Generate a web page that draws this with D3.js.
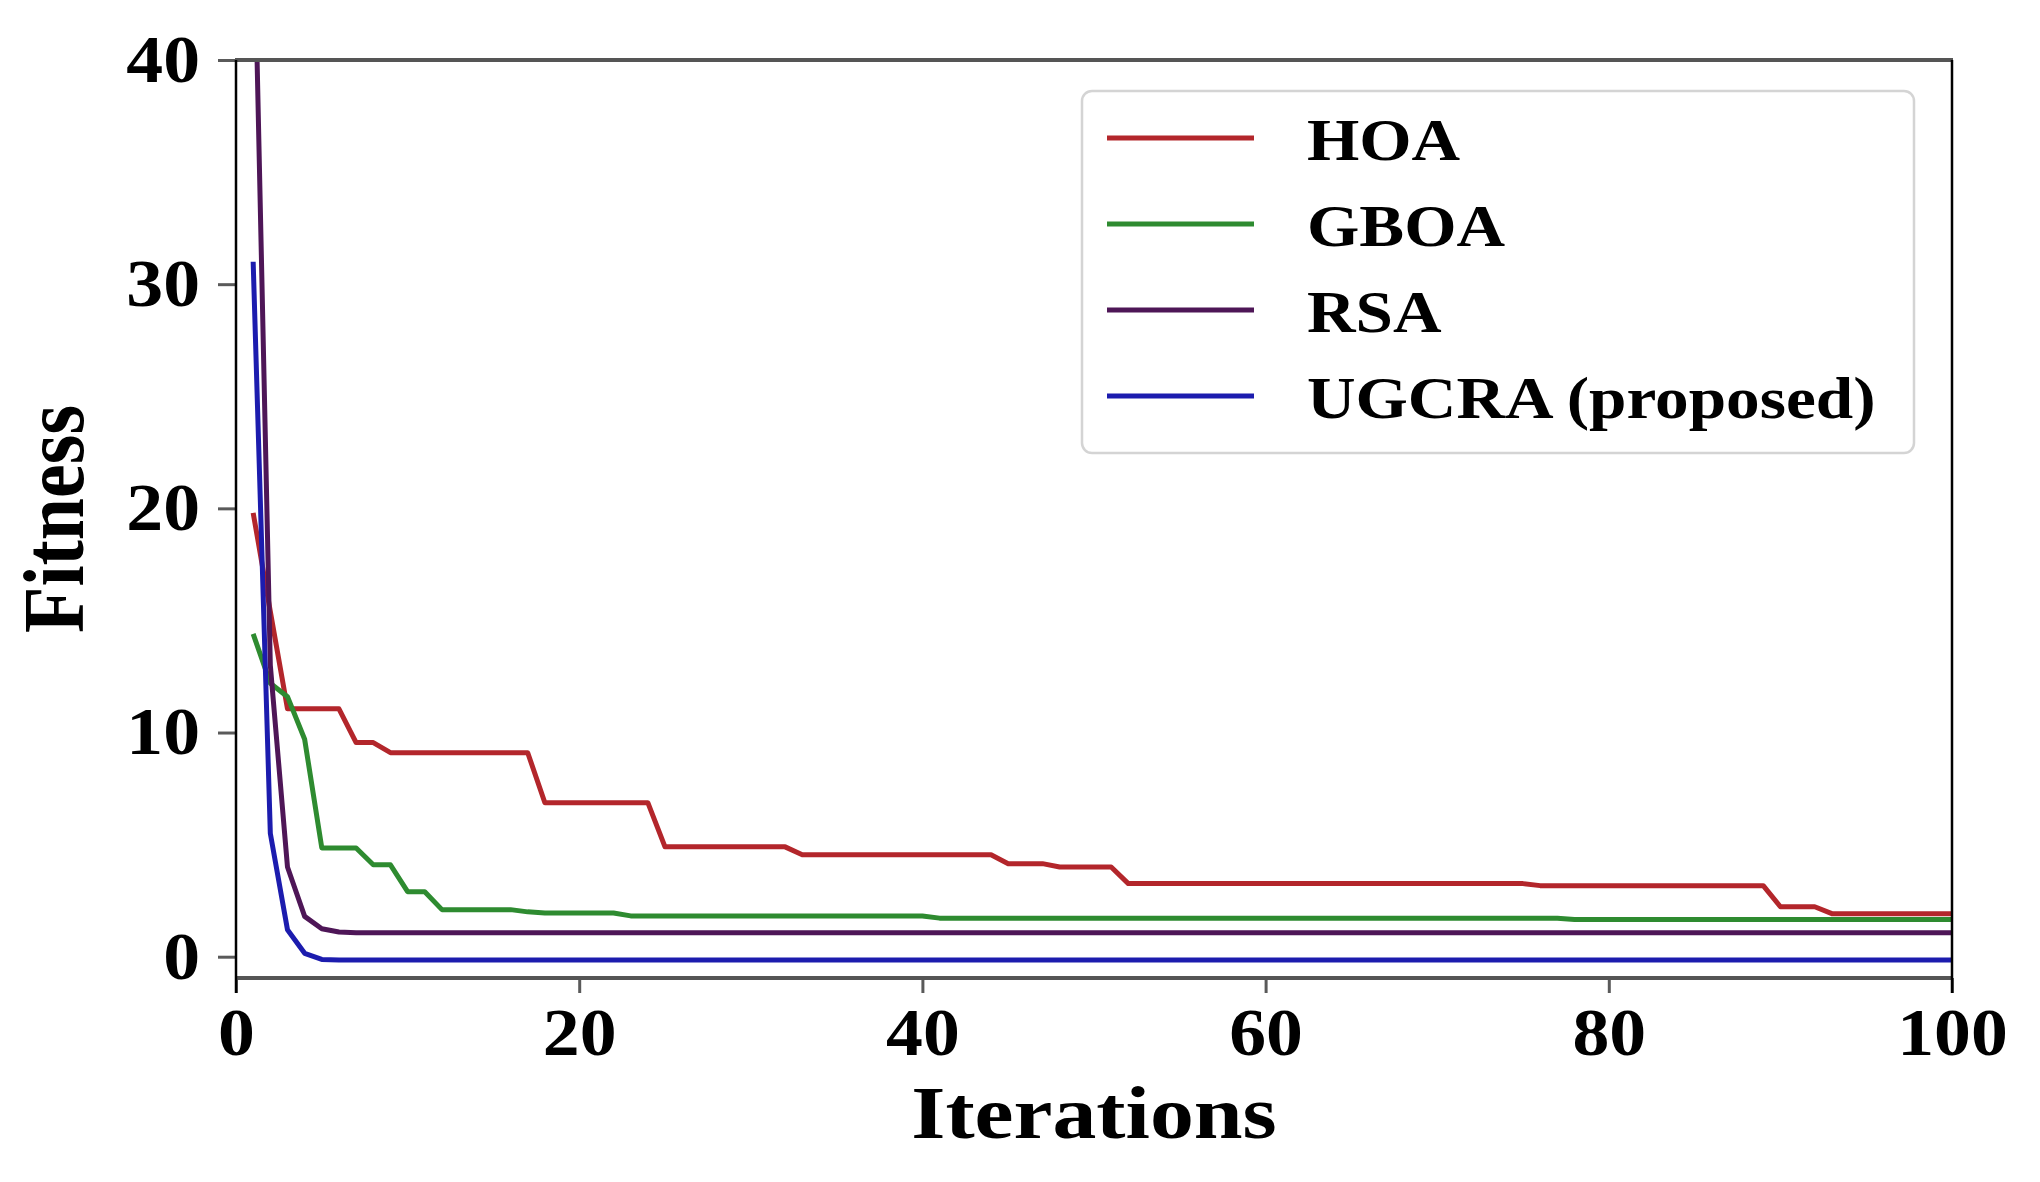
<!DOCTYPE html>
<html>
<head>
<meta charset="utf-8">
<script src="https://cdn.jsdelivr.net/npm/d3@7/dist/d3.min.js"></script>
<style>
  html, body { margin: 0; padding: 0; background: #ffffff; }
  svg { display: block; }
</style>
</head>
<body>
<svg id="chart" width="2040" height="1182"></svg>
<script>
// ---------------- data ----------------
const seriesNames = ["HOA", "GBOA", "RSA", "UGCRA (proposed)"];

const hoa = [
  19.8, 15.4, 11.06, 11.06, 11.06, 11.06, 9.55, 9.55, 9.1,
  9.1, 9.1, 9.1, 9.1, 9.1, 9.1, 9.1, 9.1,
  6.87, 6.87, 6.87, 6.87, 6.87, 6.87, 6.87,
  4.9, 4.9, 4.9, 4.9, 4.9, 4.9, 4.9, 4.9,
  4.55, 4.55, 4.55, 4.55, 4.55, 4.55, 4.55, 4.55, 4.55, 4.55, 4.55, 4.55,
  4.15, 4.15, 4.15,
  4.0, 4.0, 4.0, 4.0,
  3.26, 3.26, 3.26, 3.26, 3.26, 3.26, 3.26, 3.26, 3.26, 3.26, 3.26, 3.26,
  3.26, 3.26, 3.26, 3.26, 3.26, 3.26, 3.26, 3.26, 3.26, 3.26, 3.26, 3.26,
  3.17, 3.17, 3.17, 3.17, 3.17, 3.17, 3.17, 3.17, 3.17, 3.17, 3.17, 3.17, 3.17, 3.17,
  2.23, 2.23, 2.23,
  1.92, 1.92, 1.92, 1.92, 1.92, 1.92, 1.92, 1.92
];

const gboa = [
  14.4, 12.2, 11.6, 9.7, 4.85, 4.85, 4.85, 4.1, 4.1, 2.9, 2.9,
  2.1, 2.1, 2.1, 2.1, 2.1,
  2.0,
  1.95, 1.95, 1.95, 1.95, 1.95,
  1.82, 1.82, 1.82, 1.82, 1.82, 1.82, 1.82, 1.82, 1.82,
  1.82, 1.82, 1.82, 1.82, 1.82, 1.82, 1.82, 1.82, 1.82,
  1.72, 1.72, 1.72, 1.72, 1.72, 1.72, 1.72, 1.72, 1.72, 1.72,
  1.72, 1.72, 1.72, 1.72, 1.72, 1.72, 1.72, 1.72, 1.72, 1.72,
  1.72, 1.72, 1.72, 1.72, 1.72, 1.72, 1.72, 1.72, 1.72, 1.72,
  1.72, 1.72, 1.72, 1.72, 1.72, 1.72, 1.72,
  1.66, 1.66, 1.66, 1.66, 1.66, 1.66, 1.66, 1.66, 1.66, 1.66,
  1.66, 1.66, 1.66, 1.66, 1.66, 1.66, 1.66, 1.66, 1.66, 1.66,
  1.66, 1.66, 1.66
];

const rsa = [
  48, 13, 4.0, 1.8, 1.25, 1.1,
  1.07, 1.07, 1.07, 1.07, 1.07, 1.07, 1.07, 1.07, 1.07, 1.07,
  1.07, 1.07, 1.07, 1.07, 1.07, 1.07, 1.07, 1.07, 1.07, 1.07,
  1.07, 1.07, 1.07, 1.07, 1.07, 1.07, 1.07, 1.07, 1.07, 1.07,
  1.07, 1.07, 1.07, 1.07, 1.07, 1.07, 1.07, 1.07, 1.07, 1.07,
  1.07, 1.07, 1.07, 1.07, 1.07, 1.07, 1.07, 1.07, 1.07, 1.07,
  1.07, 1.07, 1.07, 1.07, 1.07, 1.07, 1.07, 1.07, 1.07, 1.07,
  1.07, 1.07, 1.07, 1.07, 1.07, 1.07, 1.07, 1.07, 1.07, 1.07,
  1.07, 1.07, 1.07, 1.07, 1.07, 1.07, 1.07, 1.07, 1.07, 1.07,
  1.07, 1.07, 1.07, 1.07, 1.07, 1.07, 1.07, 1.07, 1.07, 1.07,
  1.07, 1.07, 1.07, 1.07
];

const ugcra = [
  31, 5.5, 1.2, 0.15, -0.12,
  -0.15, -0.15, -0.15, -0.15, -0.15, -0.15, -0.15, -0.15, -0.15, -0.15,
  -0.15, -0.15, -0.15, -0.15, -0.15, -0.15, -0.15, -0.15, -0.15, -0.15,
  -0.15, -0.15, -0.15, -0.15, -0.15, -0.15, -0.15, -0.15, -0.15, -0.15,
  -0.15, -0.15, -0.15, -0.15, -0.15, -0.15, -0.15, -0.15, -0.15, -0.15,
  -0.15, -0.15, -0.15, -0.15, -0.15, -0.15, -0.15, -0.15, -0.15, -0.15,
  -0.15, -0.15, -0.15, -0.15, -0.15, -0.15, -0.15, -0.15, -0.15, -0.15,
  -0.15, -0.15, -0.15, -0.15, -0.15, -0.15, -0.15, -0.15, -0.15, -0.15,
  -0.15, -0.15, -0.15, -0.15, -0.15, -0.15, -0.15, -0.15, -0.15, -0.15,
  -0.15, -0.15, -0.15, -0.15, -0.15, -0.15, -0.15, -0.15, -0.15, -0.15,
  -0.15, -0.15, -0.15, -0.15, -0.15
];

const xTicks = [0, 20, 40, 60, 80, 100];
const yTicks = [0, 10, 20, 30, 40];
const seriesColors = ["#b3262b", "#2e8b30", "#4e1657", "#1c1cae"];

// ---------------- layout ----------------
const W = 2040, H = 1182;
const pLeft = 236, pRight = 1952, pTop = 60, pBottom = 978;
const FONT = "'Liberation Serif', 'Times New Roman', serif";

const svg = d3.select("#chart");
svg.append("rect").attr("width", W).attr("height", H).attr("fill", "#ffffff");

const x = d3.scaleLinear().domain([0, 100]).range([pLeft, pRight]);
const y = d3.scaleLinear().domain([-0.95, 40]).range([pBottom, pTop]);

svg.append("defs").append("clipPath").attr("id", "plotclip")
  .append("rect").attr("x", pLeft).attr("y", pTop)
  .attr("width", pRight - pLeft).attr("height", pBottom - pTop);

// ---------------- lines ----------------
const allSeries = [hoa, gboa, rsa, ugcra];
const line = d3.line()
  .x((d, i) => x(i + 1))
  .y(d => y(d));

const gLines = svg.append("g").attr("clip-path", "url(#plotclip)");
allSeries.forEach((s, k) => {
  gLines.append("path")
    .datum(s)
    .attr("d", line)
    .attr("fill", "none")
    .attr("stroke", seriesColors[k])
    .attr("stroke-width", 5)
    .attr("stroke-linejoin", "round")
    .attr("stroke-linecap", "butt");
});

// ---------------- axes ----------------
const sx = 1.1;
const xAxis = svg.append("g")
  .attr("transform", `translate(0,${pBottom})`)
  .call(d3.axisBottom(x).tickValues(xTicks).tickFormat(d3.format("d")).tickSize(15).tickPadding(14));
xAxis.select(".domain").remove();
xAxis.selectAll(".tick line").attr("stroke", "#5a5a5a").attr("stroke-width", 3);
xAxis.selectAll(".tick text")
  .attr("font-family", FONT).attr("font-weight", "bold").attr("font-size", 67)
  .attr("fill", "#000").attr("transform", `scale(${sx},1)`);

const yAxis = svg.append("g")
  .attr("transform", `translate(${pLeft},0)`)
  .call(d3.axisLeft(y).tickValues(yTicks).tickFormat(d3.format("d")).tickSize(18).tickPadding(18));
yAxis.select(".domain").remove();
yAxis.selectAll(".tick line").attr("stroke", "#5a5a5a").attr("stroke-width", 3);
yAxis.selectAll(".tick text")
  .attr("font-family", FONT).attr("font-weight", "bold").attr("font-size", 67)
  .attr("fill", "#000")
  .attr("x", -36 / sx)
  .attr("transform", `scale(${sx},1)`);

// spines
svg.append("line").attr("x1", pLeft - 1).attr("x2", pRight + 1).attr("y1", pTop).attr("y2", pTop)
  .attr("stroke", "#555555").attr("stroke-width", 4);
svg.append("line").attr("x1", pLeft - 1).attr("x2", pRight + 1).attr("y1", pBottom).attr("y2", pBottom)
  .attr("stroke", "#555555").attr("stroke-width", 4);
svg.append("line").attr("x1", pLeft).attr("x2", pLeft).attr("y1", pTop).attr("y2", pBottom + 15)
  .attr("stroke", "#000000").attr("stroke-width", 2.5);
svg.append("line").attr("x1", pRight).attr("x2", pRight).attr("y1", pTop).attr("y2", pBottom + 15)
  .attr("stroke", "#000000").attr("stroke-width", 2.5);

// axis titles
svg.append("text")
  .attr("transform", `translate(${(pLeft + pRight) / 2},1138) scale(1.17,1)`)
  .attr("text-anchor", "middle")
  .attr("font-family", FONT).attr("font-weight", "bold").attr("font-size", 75)
  .attr("fill", "#000").text("Iterations");

svg.append("text")
  .attr("transform", `translate(83,${(pTop + pBottom) / 2}) scale(1.15,1) rotate(-90)`)
  .attr("text-anchor", "middle")
  .attr("font-family", FONT).attr("font-weight", "bold").attr("font-size", 76)
  .attr("fill", "#000").text("Fitness");

// ---------------- legend ----------------
const legend = svg.append("g");
legend.append("rect")
  .attr("x", 1082).attr("y", 91).attr("width", 832).attr("height", 362)
  .attr("rx", 10).attr("ry", 10)
  .attr("fill", "#ffffff").attr("fill-opacity", 0.85)
  .attr("stroke", "#d4d4d4").attr("stroke-width", 2.5);

const legendY = d3.scalePoint().domain(seriesNames).range([138, 396]);
seriesNames.forEach((name, k) => {
  const ly = legendY(name);
  legend.append("line")
    .attr("x1", 1107).attr("x2", 1254).attr("y1", ly).attr("y2", ly)
    .attr("stroke", seriesColors[k]).attr("stroke-width", 5);
  legend.append("text")
    .attr("transform", `translate(1307,${ly + 22}) scale(1.14,1)`)
    .attr("font-family", FONT).attr("font-weight", "bold").attr("font-size", 59)
    .attr("fill", "#000").text(name);
});
</script>
</body>
</html>
